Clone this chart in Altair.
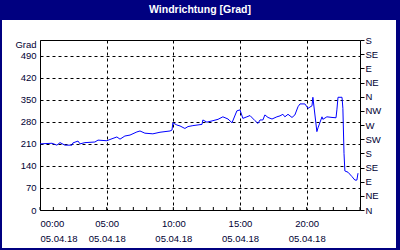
import altair as alt
import pandas as pd

TITLE = "Windrichtung [Grad]"
DATE_LABEL = "05.04.18"
TIMES = ["00:00","00:27","00:54","01:16","01:30","01:52","02:24","02:28","02:51","03:00",
         "03:22","04:07","04:21","05:01","05:15","05:46","06:00","06:22","06:45","07:16",
         "07:30","07:52","08:28","09:00","09:45","09:54","09:58","10:16","10:30","10:52",
         "11:06","11:28","12:09","12:13","12:31","12:54","13:21","13:43","14:06","14:24",
         "14:46","15:00","15:13","15:31","15:45","16:07","16:21","16:30","16:43","16:52",
         "17:06","17:24","17:46","18:00","18:13","18:22","18:36","18:54","19:07","19:21",
         "19:30","19:52","20:06","20:24","20:28","20:46","20:51","21:09","21:13","21:31",
         "21:54","22:12","22:16","22:21","22:39","22:43","22:48","22:52","23:06","23:24",
         "23:37","23:46","23:51"]
VALUES = [210,211,212,206,214,206,206,213,219,210,
          214,216,222,220,224,232,225,235,238,248,
          251,244,242,247,251,254,277,270,267,259,
          265,268,272,286,279,283,288,296,289,277,
          315,318,291,296,300,284,275,286,286,302,
          294,289,296,299,304,296,304,294,302,328,
          337,337,323,331,358,249,261,296,288,296,
          294,293,318,358,358,323,180,124,120,106,
          95,95,117]
LEFT_TICKS = [0, 70, 140, 210, 280, 350, 420, 490]
RIGHT_TICKS = list(range(0, 541, 45))
COMPASS = ["N", "NE", "E", "SE", "S", "SW", "W", "NW"]
X_LABEL_HOURS = [0, 5, 10, 15, 20]
MINOR_HOURS = list(range(0, 25))

NAVY = "#000080"
TXT = "#000033"
FONT = "Liberation Sans"
FS = 9.5

hours = [int(t[:2]) + int(t[3:]) / 60 for t in TIMES]
df = pd.DataFrame({"h": hours, "v": VALUES})

xscale = alt.Scale(domain=[0, 24], nice=False, zero=False)
yscale = alt.Scale(domain=[0, 540], nice=False)

xaxis = alt.Axis(values=X_LABEL_HOURS, title=None, domain=False, ticks=False,
                 grid=True, gridDash=[3, 3], gridColor="black", gridOpacity=1,
                 labelExpr="[(datum.value < 10 ? '0' : '') + datum.value + ':00', '" + DATE_LABEL + "']",
                 labelPadding=8, labelLineHeight=15, labelFont=FONT, labelFontSize=FS,
                 labelColor=TXT)

line = alt.Chart(df).mark_line(color="#0000ff", strokeWidth=1).encode(
    x=alt.X("h:Q", scale=xscale, axis=xaxis),
    y=alt.Y("v:Q", scale=yscale,
            axis=alt.Axis(values=LEFT_TICKS, title="Grad", titleAngle=0, titleAlign="right",
                          titleBaseline="middle", titleX=-4, titleY=4, titleFont=FONT,
                          titleFontSize=FS, titleFontWeight="normal", titleColor=TXT,
                          domain=False, ticks=False, grid=True, gridDash=[3, 3],
                          gridColor="black", gridOpacity=1, labelPadding=4,
                          labelFont=FONT, labelFontSize=FS, labelColor=TXT)),
)

compass_js = "[" + ",".join("'" + c + "'" for c in COMPASS) + "]"
right = alt.Chart(df).mark_line(opacity=0).encode(
    x=alt.X("h:Q", scale=xscale),
    y=alt.Y("v:Q", scale=yscale,
            axis=alt.Axis(orient="right", values=RIGHT_TICKS, title=None, domain=False,
                          ticks=True, tickSize=4, tickColor="black", grid=False,
                          labelExpr=compass_js + "[(datum.value / 45) % 8]",
                          labelPadding=1, labelFont=FONT, labelFontSize=FS,
                          labelColor=TXT)),
)

minor = alt.Chart(pd.DataFrame({"h": MINOR_HOURS})).mark_rule(color="black").encode(
    x=alt.X("h:Q", scale=xscale),
    y=alt.value(170), y2=alt.value(167),
)

one = pd.DataFrame({"k": [0]})
def deco(x1, x2, y1, y2):
    return alt.Chart(one).mark_rect(color=NAVY).encode(
        x=alt.value(x1), x2=alt.value(x2), y=alt.value(y1), y2=alt.value(y2))

bar = deco(-40, 360, -40, -20)
lborder = deco(-40, -38, -20, 210)
rborder = deco(356, 360, -20, 210)
bborder = deco(-40, 360, 208, 210)

title = alt.Chart(one).mark_text(color="white", font=FONT, fontSize=10.5,
                                 fontWeight="bold", align="center",
                                 baseline="middle").encode(
    x=alt.value(160), y=alt.value(-30), text=alt.value(TITLE))

chart = alt.layer(minor, line, right, bar, lborder, rborder, bborder, title).resolve_scale(
    y="independent"
).properties(
    width=320, height=170,
    autosize=alt.AutoSizeParams(type="none"),
    padding={"left": 40, "top": 40, "right": 40, "bottom": 40},
    background="white",
).configure_view(stroke="black", strokeWidth=1)

chart.save("out.html", embed_options={"renderer": "svg", "actions": False})
